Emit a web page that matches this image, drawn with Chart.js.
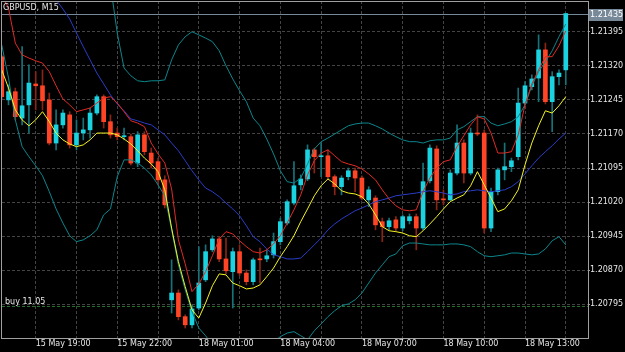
<!DOCTYPE html>
<html>
<head>
<meta charset="utf-8">
<script src="https://cdn.jsdelivr.net/npm/chart.js@4.4.1/dist/chart.umd.min.js"></script>
<style>
  html, body { margin: 0; padding: 0; background: #000; }
</style>
</head>
<body>
<canvas id="chart" width="625" height="352"></canvas>
<script>
// GBPUSD M15, one entry per candle (15 May 17:45 .. 18 May 14:30)
const open = [
  1.21340, 1.21245, 1.21263, 1.21205, 1.21234, 1.21280, 1.21276, 1.21245, 1.21150, 1.21190,
  1.21212, 1.21146, 1.21172, 1.21179, 1.21216, 1.21252, 1.21197, 1.21172, 1.21164, 1.21164,
  1.21106, 1.21168, 1.21128, 1.21109, 1.21069, 1.20805, 1.20820, 1.20768, 1.20750, 1.20787,
  1.20849, 1.20915, 1.20939, 1.20895, 1.20867, 1.20911, 1.20864, 1.20845, 1.20895, 1.20895,
  1.20904, 1.20933, 1.20974, 1.21018, 1.21058, 1.21071, 1.21135, 1.21120, 1.21122, 1.21076,
  1.21054, 1.21076, 1.21089, 1.21073, 1.21025, 1.21029, 1.20977, 1.20966, 1.20981, 1.20963,
  1.20979, 1.20988, 1.20963, 1.21067, 1.21137, 1.21027, 1.21025, 1.21084, 1.21150, 1.21084,
  1.21172, 1.21172, 1.20963, 1.21043, 1.21091, 1.21098, 1.21120, 1.21238, 1.21274, 1.21293,
  1.21355, 1.21241, 1.21296, 1.21311
];
const high = [
  1.21344, 1.21278, 1.21271, 1.21362, 1.21322, 1.21307, 1.21311, 1.21260, 1.21223, 1.21223,
  1.21219, 1.21201, 1.21205, 1.21227, 1.21256, 1.21256, 1.21212, 1.21183, 1.21183, 1.21170,
  1.21175, 1.21175, 1.21139, 1.21117, 1.21078, 1.20893, 1.20827, 1.20772, 1.20794, 1.20922,
  1.20926, 1.20946, 1.20944, 1.20941, 1.20919, 1.20926, 1.20871, 1.20897, 1.20919, 1.20915,
  1.20952, 1.20985, 1.21025, 1.21109, 1.21080, 1.21146, 1.21139, 1.21150, 1.21135, 1.21080,
  1.21078, 1.21095, 1.21095, 1.21078, 1.21054, 1.21034, 1.20985, 1.20985, 1.20988, 1.20992,
  1.20994, 1.20994, 1.21106, 1.21146, 1.21144, 1.21047, 1.21091, 1.21190, 1.21157, 1.21183,
  1.21212, 1.21179, 1.21051, 1.21095, 1.21150, 1.21117, 1.21271, 1.21285, 1.21300, 1.21388,
  1.21370, 1.21307, 1.21311, 1.21435
];
const low = [
  1.21245, 1.21234, 1.21201, 1.21190, 1.21172, 1.21223, 1.21223, 1.21146, 1.21135, 1.21183,
  1.21139, 1.21135, 1.21157, 1.21161, 1.21212, 1.21183, 1.21161, 1.21157, 1.21157, 1.21102,
  1.21098, 1.21124, 1.21095, 1.21058, 1.21007, 1.20776, 1.20761, 1.20743, 1.20743, 1.20783,
  1.20845, 1.20911, 1.20889, 1.20862, 1.20787, 1.20858, 1.20838, 1.20838, 1.20842, 1.20889,
  1.20897, 1.20926, 1.20970, 1.21014, 1.21047, 1.21067, 1.21084, 1.21076, 1.21071, 1.21036,
  1.21036, 1.21069, 1.21043, 1.21025, 1.21010, 1.20959, 1.20933, 1.20959, 1.20957, 1.20957,
  1.20972, 1.20915, 1.20959, 1.21062, 1.21003, 1.21014, 1.21023, 1.21080, 1.21062, 1.21080,
  1.21166, 1.20952, 1.20955, 1.21036, 1.21069, 1.21087, 1.21113, 1.21234, 1.21267, 1.21241,
  1.21236, 1.21175, 1.21278, 1.21278
];
const close = [
  1.21252, 1.21263, 1.21208, 1.21232, 1.21282, 1.21276, 1.21243, 1.21150, 1.21190, 1.21216,
  1.21146, 1.21172, 1.21179, 1.21216, 1.21252, 1.21197, 1.21168, 1.21164, 1.21166, 1.21106,
  1.21168, 1.21131, 1.21106, 1.21069, 1.21014, 1.20820, 1.20768, 1.20750, 1.20785, 1.20842,
  1.20911, 1.20939, 1.20895, 1.20869, 1.20911, 1.20864, 1.20845, 1.20893, 1.20893, 1.20902,
  1.20933, 1.20977, 1.21021, 1.21056, 1.21071, 1.21135, 1.21120, 1.21122, 1.21076, 1.21054,
  1.21073, 1.21089, 1.21073, 1.21029, 1.21047, 1.20970, 1.20966, 1.20979, 1.20963, 1.20988,
  1.20988, 1.20963, 1.21065, 1.21139, 1.21025, 1.21025, 1.21084, 1.21150, 1.21084, 1.21172,
  1.21170, 1.20963, 1.21043, 1.21091, 1.21098, 1.21111, 1.21238, 1.21276, 1.21291, 1.21355,
  1.21241, 1.21296, 1.21304, 1.21435
];

// indicator lines
const maRed = [
  1.21476, 1.21447, 1.21370, 1.21344, 1.21337, 1.21331, 1.21326, 1.21307, 1.21276, 1.21247,
  1.21234, 1.21219, 1.21223, 1.21227, 1.21238, 1.21249, 1.21252, 1.21238, 1.21219, 1.21199,
  1.21194, 1.21186, 1.21150, 1.21126, 1.21106, 1.21049, 1.20937, 1.20884, 1.20823, 1.20840,
  1.20867, 1.20902, 1.20939, 1.20955, 1.20950, 1.20935, 1.20922, 1.20911, 1.20908, 1.20915,
  1.20928, 1.20946, 1.20974, 1.21003, 1.21036, 1.21080, 1.21111, 1.21128, 1.21135, 1.21122,
  1.21109, 1.21104, 1.21100, 1.21093, 1.21082, 1.21069, 1.21047, 1.21027, 1.21012, 1.21003,
  1.21001, 1.21003, 1.21043, 1.21073, 1.21095, 1.21109, 1.21113, 1.21142, 1.21166, 1.21190,
  1.21208, 1.21203, 1.21172, 1.21128, 1.21128, 1.21131, 1.21168, 1.21234, 1.21280, 1.21311,
  1.21340, 1.21340, 1.21364, 1.21397
];
const maYellow = [
  1.21311, 1.21271, 1.21223, 1.21201, 1.21188, 1.21201, 1.21219, 1.21197, 1.21172, 1.21157,
  1.21148, 1.21142, 1.21146, 1.21157, 1.21172, 1.21172, 1.21172, 1.21168, 1.21159, 1.21148,
  1.21133, 1.21117, 1.21104, 1.21087, 1.21047, 1.20963, 1.20889, 1.20834, 1.20783, 1.20765,
  1.20798, 1.20836, 1.20862, 1.20860, 1.20842, 1.20836, 1.20829, 1.20831, 1.20838, 1.20856,
  1.20875, 1.20900, 1.20922, 1.20946, 1.20977, 1.21005, 1.21034, 1.21056, 1.21071, 1.21060,
  1.21045, 1.21040, 1.21038, 1.21032, 1.21016, 1.20992, 1.20966, 1.20957, 1.20955, 1.20952,
  1.20946, 1.20944, 1.20957, 1.20972, 1.20988, 1.21005, 1.21021, 1.21029, 1.21036, 1.21056,
  1.21087, 1.21058, 1.21029, 1.20999, 1.21005, 1.21023, 1.21047, 1.21102, 1.21150, 1.21188,
  1.21221, 1.21216, 1.21232, 1.21252
];
const bandMid = [
  null, null, null, null, null, null, 1.21500, 1.21480, 1.21465, 1.21445,
  1.21423, 1.21392, 1.21362, 1.21333, 1.21304, 1.21280, 1.21256, 1.21236, 1.21221, 1.21203,
  1.21199, 1.21194, 1.21190, 1.21179, 1.21168, 1.21150, 1.21133, 1.21111, 1.21089, 1.21069,
  1.21051, 1.21043, 1.21032, 1.21018, 1.21005, 1.20990, 1.20968, 1.20944, 1.20933, 1.20917,
  1.20904, 1.20900, 1.20895, 1.20895, 1.20897, 1.20911, 1.20926, 1.20941, 1.20959, 1.20972,
  1.20983, 1.20992, 1.21001, 1.21007, 1.21014, 1.21021, 1.21025, 1.21029, 1.21034, 1.21036,
  1.21038, 1.21040, 1.21043, 1.21045, 1.21043, 1.21040, 1.21036, 1.21038, 1.21043, 1.21045,
  1.21047, 1.21045, 1.21043, 1.21045, 1.21047, 1.21054, 1.21065, 1.21082, 1.21100, 1.21117,
  1.21131, 1.21144, 1.21159, 1.21172
];
const bandUp = [
  null, null, null, null, null, null, null, null, null, null,
  null, null, null, null, null, 1.21586, 1.21498, 1.21392, 1.21315, 1.21298,
  1.21287, 1.21285, 1.21287, 1.21287, 1.21289, 1.21333, 1.21366, 1.21384, 1.21395, 1.21388,
  1.21381, 1.21373, 1.21353, 1.21320, 1.21291, 1.21265, 1.21241, 1.21205, 1.21188, 1.21159,
  1.21126, 1.21089, 1.21065, 1.21062, 1.21073, 1.21104, 1.21137, 1.21153, 1.21161, 1.21170,
  1.21179, 1.21188, 1.21192, 1.21194, 1.21194, 1.21188, 1.21181, 1.21172, 1.21164, 1.21157,
  1.21153, 1.21153, 1.21150, 1.21155, 1.21157, 1.21157, 1.21161, 1.21179, 1.21186, 1.21197,
  1.21208, 1.21208, 1.21194, 1.21188, 1.21192, 1.21197, 1.21208, 1.21234, 1.21276, 1.21307,
  1.21329, 1.21353, 1.21384, 1.21412
];
const bandLow = [
  1.21366, 1.21293, 1.21201, 1.21142, 1.21120, 1.21100, 1.21078, 1.21043, 1.21005, 1.20974,
  1.20946, 1.20933, 1.20937, 1.20946, 1.20959, 1.20992, 1.21005, 1.21076, 1.21113, 1.21113,
  1.21106, 1.21095, 1.21080, 1.21058, 1.21034, 1.20959, 1.20882, 1.20827, 1.20779, 1.20743,
  1.20726, 1.20706, 1.20691, 1.20677, 1.20669, 1.20664, 1.20673, 1.20684, 1.20695, 1.20704,
  1.20713, 1.20724, 1.20732, 1.20735, 1.20726, 1.20717, 1.20737, 1.20752, 1.20768, 1.20781,
  1.20792, 1.20796, 1.20805, 1.20820, 1.20842, 1.20864, 1.20882, 1.20900, 1.20906, 1.20924,
  1.20930, 1.20930, 1.20928, 1.20926, 1.20926, 1.20926, 1.20928, 1.20928, 1.20926, 1.20922,
  1.20911, 1.20902, 1.20900, 1.20902, 1.20904, 1.20908, 1.20908, 1.20906, 1.20904, 1.20906,
  1.20917, 1.20935, 1.20944, 1.20926
];

// axis labels
const xTickIdx = [5, 17, 29, 41, 53, 65, 77];
const xTickLabels = ['15 May 19:00', '15 May 22:00', '18 May 01:00', '18 May 04:00',
                     '18 May 07:00', '18 May 10:00', '18 May 13:00'];
const yTicks = [1.21395, 1.21320, 1.21245, 1.21170, 1.21095, 1.21020, 1.20945, 1.20870, 1.20795];
const bidPrice = 1.21435;
const orderPrice = 1.20791;
const orderLabel = 'buy 11.05';
const title = 'GBPUSD, M15';

const BULL = '#1ad2e0', BEAR = '#ff4526';
const BULL_WICK = '#16737b', BEAR_WICK = '#8c2416';
const FONT = '"DejaVu Sans", sans-serif';

const isBull = open.map((o, i) => close[i] >= o);
const pts = arr => arr.map((v, i) => ({ x: i, y: v }));

const lineDs = (data, color) => ({
  type: 'line',
  data: pts(data),
  borderColor: color,
  borderWidth: 1,
  pointRadius: 0,
  tension: 0,
  spanGaps: false,
  clip: 0,
  order: 0
});

const overlay = {
  id: 'overlay',
  beforeDatasetsDraw(chart) {
    const { ctx, chartArea: a, scales: { y } } = chart;
    ctx.save();
    const yb = Math.round(y.getPixelForValue(bidPrice)) + 0.5;
    ctx.strokeStyle = '#778899';
    ctx.lineWidth = 1;
    ctx.beginPath(); ctx.moveTo(a.left, yb); ctx.lineTo(a.right, yb); ctx.stroke();
    const yo = Math.round(y.getPixelForValue(orderPrice)) + 0.5;
    ctx.strokeStyle = '#22702a';
    ctx.setLineDash([3, 2]);
    ctx.beginPath(); ctx.moveTo(a.left, yo); ctx.lineTo(a.right, yo); ctx.stroke();
    ctx.restore();
  },
  afterDraw(chart) {
    const { ctx, chartArea: a, scales: { y } } = chart;
    ctx.save();
    // frame
    ctx.strokeStyle = '#a0a0a0';
    ctx.lineWidth = 1;
    ctx.strokeRect(a.left - 0.5, a.top + 0.5, a.right - a.left + 1, a.bottom - a.top);
    ctx.font = '8px ' + FONT;
    ctx.fillStyle = '#e6e6e6';
    ctx.textBaseline = 'middle';
    ctx.textAlign = 'left';
    ctx.fillText(title, 3, 7.5);
    const yo = Math.round(y.getPixelForValue(orderPrice));
    ctx.textBaseline = 'alphabetic';
    ctx.fillText(orderLabel, 5, yo - 2);
    // bid price box
    const yb = Math.round(y.getPixelForValue(bidPrice));
    ctx.fillStyle = '#778899';
    ctx.fillRect(a.right + 1, yb - 5, 34, 12);
    ctx.fillStyle = '#ffffff';
    ctx.textBaseline = 'middle';
    ctx.fillText(bidPrice.toFixed(5), a.right + 2, yb + 1);
    ctx.restore();
  }
};

Chart.defaults.font.family = FONT;
Chart.defaults.font.size = 8;
Chart.defaults.color = '#e6e6e6';

new Chart(document.getElementById('chart'), {
  type: 'bar',
  data: {
    datasets: [
      lineDs(maRed, '#e02a24'),
      lineDs(maYellow, '#f4f422'),
      lineDs(bandMid, '#2a3cc8'),
      lineDs(bandUp, '#0c868c'),
      lineDs(bandLow, '#0c868c'),
      {
        label: 'body',
        data: open.map((o, i) => ({ x: i, y: [o, close[i]] })),
        backgroundColor: isBull.map(b => b ? BULL : BEAR),
        barThickness: 4,
        minBarLength: 1,
        grouped: false,
        borderWidth: 0,
        clip: 0,
        order: 1
      },
      {
        label: 'wick',
        data: low.map((l, i) => ({ x: i, y: [l, high[i]] })),
        backgroundColor: isBull.map(b => b ? BULL_WICK : BEAR_WICK),
        barThickness: 1,
        grouped: false,
        borderWidth: 0,
        clip: 0,
        order: 2
      }
    ]
  },
  options: {
    responsive: false,
    animation: false,
    events: [],
    layout: { padding: { left: 2, top: 1, right: 0, bottom: 0 } },
    plugins: { legend: { display: false }, tooltip: { enabled: false } },
    scales: {
      x: {
        type: 'linear',
        min: 0.04,
        max: 86.27,
        offset: false,
        grid: { color: '#444444', offset: false, drawTicks: false },
        border: { display: false, dash: [3, 2] },
        afterBuildTicks: s => { s.ticks = xTickIdx.flatMap(i => [i, i + 6]).map(v => ({ value: v })); },
        afterFit: s => { s.height = 14; s.paddingLeft = 0; s.paddingRight = 0; },
        ticks: {
          autoSkip: false,
          maxRotation: 0,
          minRotation: 0,
          align: 'start',
          padding: 1,
          callback: v => { const k = xTickIdx.indexOf(v); return k >= 0 ? xTickLabels[k] : ''; }
        }
      },
      y: {
        position: 'right',
        min: 1.2072104,
        max: 1.2146255,
        beginAtZero: false,
        grid: { color: '#444444', tickColor: '#a0a0a0', tickLength: 2 },
        border: { display: false, dash: [3, 2] },
        afterBuildTicks: s => { s.ticks = yTicks.map(v => ({ value: v })); },
        afterFit: s => { s.width = 37; s.paddingTop = 0; s.paddingBottom = 0; },
        ticks: { padding: 0, callback: v => v.toFixed(5) }
      }
    }
  },
  plugins: [overlay]
});
</script>
</body>
</html>
